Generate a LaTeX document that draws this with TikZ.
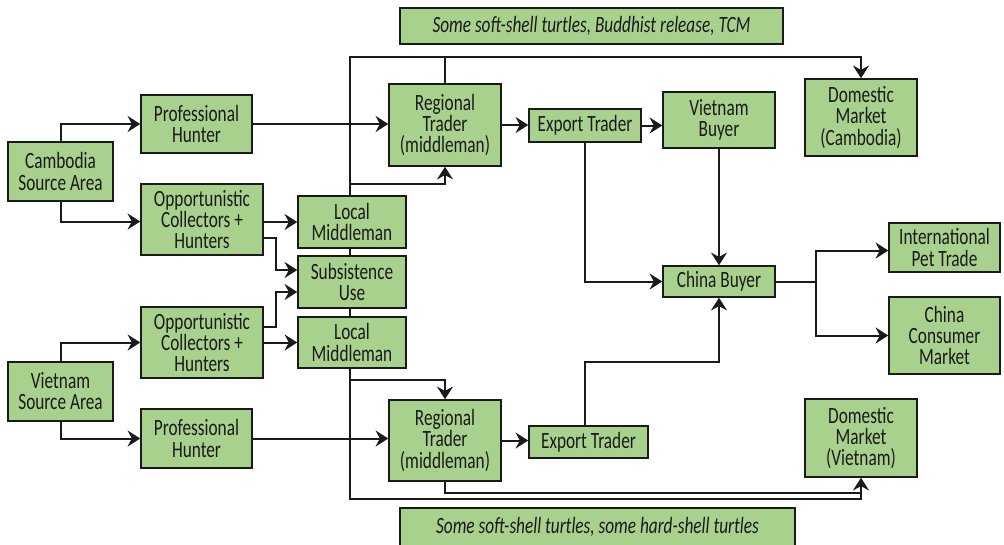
\documentclass[tikz,border=0pt]{standalone}
\usepackage{fontspec}
\setmainfont[FakeStretch=0.74]{Carlito}
\usetikzlibrary{arrows.meta,calc}
\definecolor{boxgreen}{HTML}{A9D18E}
\definecolor{ink}{HTML}{1A1A1A}
\tikzset{
  box/.style 2 args={draw=ink,line width=1.1pt,fill=boxgreen,align=center,inner sep=0pt,
    minimum width=#1*0.75pt,minimum height=#2*0.75pt,
    font=\fontsize{17.5}{15.8}\selectfont,text=ink},
  note/.style 2 args={box={#1}{#2},font=\fontsize{17.5}{15.8}\selectfont\itshape},
  link/.style={draw=ink,line width=1.5pt},
  arr/.style={link,-{Stealth[length=9.5pt,width=12pt,inset=3.2pt]}}
}
\begin{document}
\begin{tikzpicture}[x=0.75pt,y=-0.75pt]
\useasboundingbox (0,0) rectangle (1004,544);

% nodes
\node[note={383}{36}] (n1) at (591.5,26) {Some soft-shell turtles, Buddhist release, TCM};
\node[note={395}{38}] (n2) at (597.5,527) {Some soft-shell turtles, some hard-shell turtles};

\node[box={105}{59}] (cam) at (60.5,171.5) {Cambodia\\Source Area};
\node[box={105}{59}] (vie) at (60.5,391.5) {Vietnam\\Source Area};
\node[box={111}{58}] (ph1) at (196.5,124) {Professional\\Hunter};
\node[box={111}{59}] (ph2) at (196.5,438.5) {Professional\\Hunter};
\node[box={122}{71}] (oc1) at (202,219.5) {Opportunistic\\Collectors +\\Hunters};
\node[box={122}{71}] (oc2) at (202,342.5) {Opportunistic\\Collectors +\\Hunters};
\node[box={108}{52}] (lm1) at (352,222) {Local\\Middleman};
\node[box={108}{52}] (sub) at (352,282) {Subsistence\\Use};
\node[box={108}{51}] (lm2) at (352,342.5) {Local\\Middleman};
\node[box={112}{82}] (rt1) at (445,125) {Regional\\Trader\\(middleman)};
\node[box={112}{81}] (rt2) at (445,440.5) {Regional\\Trader\\(middleman)};
\node[box={112}{33}] (et1) at (585,125.5) {Export Trader};
\node[box={119}{32}] (et2) at (588.5,442) {Export Trader};
\node[box={112}{56}] (vb) at (719,120) {Vietnam\\Buyer};
\node[box={112}{31}] (cb) at (719,281.5) {China Buyer};
\node[box={112}{77}] (dmc) at (861,117.5) {Domestic\\Market\\(Cambodia)};
\node[box={112}{78}] (dmv) at (861,438) {Domestic\\Market\\(Vietnam)};
\node[box={111}{49}] (ipt) at (944.5,247.5) {International\\Pet Trade};
\node[box={111}{77}] (ccm) at (944.5,335.5) {China\\Consumer\\Market};

% helper coordinates
\coordinate (S) at (350,57);
\coordinate (B) at (350,499);
\coordinate (b1) at (350,184);
\coordinate (b2) at (350,380);
\coordinate (h2) at (585,362);
\coordinate (f) at (816,281.5);

% connectors
\draw[arr] (cam.north) |- (ph1.west);
\draw[arr] (cam.south) |- ($(oc1.west)+(0,2)$);
\draw[arr] (vie.north) |- (oc2.west);
\draw[arr] (vie.south) |- (ph2.west);
\draw[arr] (ph1.east) -- (ph1.east -| rt1.west);
\draw[arr] (ph2.east) -- (ph2.east -| rt2.west);
\draw[arr] (oc1.east |- lm1.west) -- (lm1.west);
\draw[arr] (oc2.east) -- (lm2.west);
\draw[arr] ($(oc1.east)+(0,18.5)$) -- ++(12,0) |- ($(sub.west)+(0,-12)$);
\draw[arr] ($(oc2.east)+(0,-15.5)$) -- ++(12,0) |- ($(sub.west)+(0,10)$);

% spine
\draw[arr] (lm1.north -| S) -- (S) -| (dmc.north);
\draw[link] (lm1.south -| S) -- (sub.north -| S);
\draw[link] (sub.south -| S) -- (lm2.north -| S);
\draw[arr] (lm2.south -| S) -- (B) -| (dmv.south);
\draw[link] (rt1.north) -- (rt1.north |- S);
\draw[arr] (b1) -| (rt1.south);
\draw[arr] (b2) -| (rt2.north);
\draw[link] (rt2.south) |- ($(dmv.south)+(0,15)$);

% traders
\draw[arr] (rt1.east) -- (rt1.east -| et1.west);
\draw[arr] (et1.east) -- (et1.east -| vb.west);
\draw[arr] (rt2.east) -- (rt2.east -| et2.west);
\draw[arr] (et1.south) |- (cb.west);
\draw[arr] (vb.south) -- (cb.north);
\draw[arr] (et2.north -| h2) -- (h2) -| (cb.south);
\draw[link] (cb.east) -- (f);
\draw[arr] (f) |- ($(ipt.west)+(0,3)$);
\draw[arr] (f) |- (ccm.west);
\end{tikzpicture}
\end{document}
